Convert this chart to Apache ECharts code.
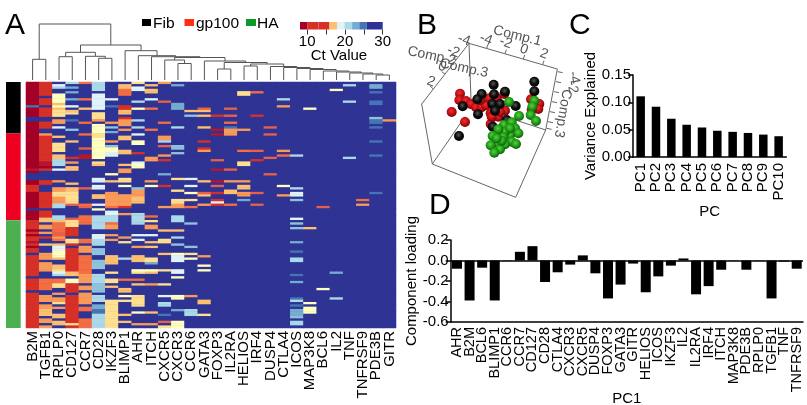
<!DOCTYPE html>
<html><head><meta charset="utf-8">
<style>html,body{margin:0;padding:0;background:#fff}#c{width:807px;height:405px}</style>
<script src="https://cdn.jsdelivr.net/npm/echarts@6/dist/echarts.min.js"></script>
</head><body><div id="c"></div>
<script>
// ---------- Panel A: heat map. Each gene lists [fromRow, toRow, Ct]; rows not listed are undetected (Ct 30)
const rowCount = 105;
const heatGenes = ['B2M','TGFB1','RPLP0','CD127','CCR7','CD28','IKZF3','BLIMP1','AHR','ITCH','CXCR5','CXCR3','CCR6','GATA3','FOXP3','IL2RA','HELIOS','IRF4','DUSP4','CTLA4','ICOS','MAP3K8','BCL6','IL2','TNF','TNFRSF9','PDE3B','GITR'];
const ctB2M = [[0,54,9],[10,11,24],[15,17,30],[37,38,11],[39,42,30],[44,47,12],[54,55,30],[55,59,9],[59,105,12.5],[63,64,10],[65,66,10],[68,69,11],[70,71,10],[73,74,30],[83,84,30],[89,90,30]];
const ctTGFB1 = [[0,58,12.5],[6,7,30],[10,11,30],[15,17,30],[20,22,30],[22,23,16.5],[34,36,11],[36,37,10],[38,42,30],[44,47,30],[54,55,30],[58,60,17.5],[60,61,30],[61,63,16],[63,64,30],[64,65,16.5],[65,66,30],[66,67,12],[69,70,17],[73,76,16],[77,81,16.5],[84,89,15],[91,94,16],[95,97,16.5],[97,100,17],[101,103,16.5],[104,105,16]];
const ctRPLP0 = [[1,2,20],[2,3,21],[5,9,18.5],[9,10,17],[10,11,19],[11,12,17],[12,15,18],[16,18,16.5],[19,20,20],[23,24,17.5],[26,30,18],[31,33,17],[33,36,21],[37,38,20],[42,43,16],[45,47,16],[47,49,18],[49,52,16.5],[52,54,21],[57,59,21],[59,60,17],[60,62,15],[62,64,15],[64,66,14],[66,67,16],[67,68,15],[69,70,17],[70,72,19.5],[72,75,18.5],[75,76,17],[78,80,17],[80,81,18],[81,82,20],[82,83,21],[84,86,15.5],[86,88,18],[90,91,16],[92,94,16.5],[94,95,18],[96,97,16.5],[99,101,17],[102,104,17]];
const ctCD127 = [[0,1,21],[2,3,23],[4,5,23],[7,8,23],[10,11,20],[12,13,17],[13,14,18],[16,17,24],[20,21,22],[25,26,17],[32,33,13],[34,35,16],[36,38,17.5],[43,44,17],[45,47,17],[47,52,18],[52,53,14],[58,59,14],[59,62,18],[62,66,13],[67,69,18],[69,70,13],[71,81,13],[81,83,17],[84,86,19],[86,90,13],[91,103,13],[103,104,18],[104,105,13]];
const ctCCR7 = [[0,1,15],[7,8,15.5],[11,12,17.5],[17,18,15],[22,23,15],[28,29,14],[31,33,11],[45,46,14],[52,53,15],[53,54,14],[57,59,15],[59,61,15.5],[67,69,15],[70,73,16],[74,82,15],[82,84,16],[84,86,16],[87,89,16],[90,95,16.5],[96,98,15.5],[101,105,15]];
const ctCD28 = [[0,4,21],[5,10,20],[10,12,19.5],[13,16,18],[16,17,16.5],[18,28,19],[22,24,18],[28,33,18.5],[34,35,18],[35,36,17],[41,43,20],[44,46,20],[48,50,17.5],[52,53,20],[54,55,19],[57,63,21],[65,67,20],[67,70,21],[71,74,22],[76,80,22.5],[82,86,21],[86,90,22],[91,94,21],[95,97,23],[97,99,24],[99,102,21],[102,105,21]];
const ctIKZF3 = [[7,8,19.5],[10,11,24],[17,18,16],[19,20,22],[21,22,23],[25,26,16],[27,28,22],[28,30,19],[30,32,20],[39,40,19],[42,43,17],[47,49,16],[49,53,16],[53,54,15.5],[55,57,20],[57,60,21],[60,61,15.5],[61,63,16],[65,66,16],[67,68,16],[74,78,17],[81,82,18],[84,86,18],[87,88,17],[93,105,18]];
const ctBLIMP1 = [[1,3,17],[3,6,15.5],[10,12,13],[12,14,17],[15,16,13],[16,19,16.5],[20,21,16],[23,25,17],[29,31,17],[35,36,17.5],[37,39,16],[41,43,18],[44,45,19],[48,53,16],[53,54,13],[56,57,16],[66,67,16.5],[68,69,18],[75,76,21],[84,85,15],[88,90,17],[91,92,19],[93,94,18],[99,100,17],[102,103,17]];
const ctAHR = [[0,1,18],[2,3,20],[3,4,20],[8,9,21],[11,12,19],[16,17,21],[19,20,21],[22,23,20],[25,27,19],[30,31,12],[34,35,20],[35,37,19],[45,46,22],[46,49,16.5],[49,52,17],[56,61,21],[65,66,19.5],[67,68,20],[70,71,16.5],[74,77,17.5],[80,81,19],[81,82,18],[84,85,15],[86,87,17],[91,96,18],[98,99,19],[103,104,16.5]];
const ctITCH = [[1,2,17],[3,5,17],[7,8,20],[11,12,15],[20,21,15.5],[32,34,16.5],[42,43,16.5],[44,45,18.5],[57,58,15.5],[59,60,18],[61,63,16.5],[65,66,19.5],[68,69,17],[70,71,17],[75,77,18],[77,78,23],[80,81,19],[81,82,17],[86,87,16.5],[98,99,17],[103,104,16.5]];
const ctCXCR5 = [[0,1,16.5],[8,9,14],[17,18,15],[23,25,16.5],[25,26,21],[27,28,14],[31,32,16],[33,34,12],[39,40,23],[44,45,12],[53,54,16],[63,64,17],[67,69,18],[73,74,17],[80,81,18],[86,87,18],[91,92,20],[94,96,21],[99,100,24],[102,103,14],[104,105,18]];
const ctCXCR3 = [[1,2,23],[9,12,23],[19,20,21],[27,29,22],[30,31,22],[41,42,18],[46,47,18],[50,52,18],[52,54,16],[57,60,21.5],[63,64,17],[66,67,21],[69,70,22],[73,74,19],[74,77,20],[80,82,20],[83,84,19],[91,93,19],[97,98,23],[102,105,19]];
const ctCCR6 = [[12,13,17],[14,15,22],[41,42,20],[44,45,19.5],[47,48,19],[50,51,18],[53,54,15.5],[60,61,22],[70,71,22],[73,74,18],[75,76,19],[91,92,16],[97,100,21]];
const ctGATA3 = [[11,12,14],[12,13,17],[14,15,17],[19,20,17],[25,26,12],[28,29,13],[29,30,16],[42,43,17],[47,48,14],[48,49,17],[52,53,16.5],[74,75,16.5],[78,79,19],[80,81,19],[93,95,17.5],[99,100,18]];
const ctFOXP3 = [[14,15,12],[20,21,11],[22,23,11],[33,34,14],[37,38,11],[42,43,11],[44,45,14],[47,48,13],[50,51,12],[51,52,20],[52,53,12]];
const ctIL2RA = [[11,12,14.5],[14,15,14],[17,18,15],[19,20,24],[20,23,16],[37,38,14],[42,43,16],[46,48,17],[52,53,15.5]];
const ctHELIOS = [[4,6,18],[20,21,16.5],[29,30,15.5],[34,36,18],[42,43,16.5],[44,46,17.5],[47,49,16.5],[50,51,23]];
const ctIRF4 = [[4,5,15],[14,15,12],[29,30,14],[33,34,12],[47,48,14],[52,53,14]];
const ctDUSP4 = [[19,20,14],[22,23,14.5],[32,33,14.5],[39,40,14.5]];
const ctCTLA4 = [[7,8,20.5],[10,11,16.5],[29,30,16.5],[31,32,15.5],[44,45,19],[48,49,16.5]];
const ctICOS = [[31,32,20.5],[45,46,21],[47,49,20],[50,51,22],[58,59,20],[60,61,22],[62,63,22],[68,69,23],[72,73,24],[75,77,21],[82,83,24],[85,86,23],[92,93,24],[93,94,21],[95,96,25],[97,100,23],[100,101,22],[102,104,21]];
const ctMAP3K8 = [[11,12,19],[62,63,17],[94,95,19],[96,99,19]];
const ctBCL6 = [[53,54,14],[88,89,19]];
const ctIL2 = [[3,4,19],[81,82,23],[92,93,20.5]];
const ctTNF = [[1,2,21],[8,9,21],[32,33,21]];
const ctTNFRSF9 = [[50,51,15.5],[52,53,16.5]];
const ctPDE3B = [[1,3,23],[4,5,24],[8,10,24],[15,16,22],[16,18,24],[19,20,24.5],[25,26,25],[31,32,25],[47,48,25]];
const ctGITR = [[16,17,16]];
const heatColumns = [ctB2M,ctTGFB1,ctRPLP0,ctCD127,ctCCR7,ctCD28,ctIKZF3,ctBLIMP1,ctAHR,ctITCH,ctCXCR5,ctCXCR3,ctCCR6,ctGATA3,ctFOXP3,ctIL2RA,ctHELIOS,ctIRF4,ctDUSP4,ctCTLA4,ctICOS,ctMAP3K8,ctBCL6,ctIL2,ctTNF,ctTNFRSF9,ctPDE3B,ctGITR];
// Ct colour steps: [upper bound, colour]
const ctSteps = [[10,'#a50026'],[11.5,'#b5162c'],[13.5,'#d73027'],[14.5,'#e8604a'],[15.5,'#f46d43'],[16.5,'#fa9a58'],[17.5,'#fdbf71'],[18.2,'#fee090'],[19.2,'#ffffbf'],[20.2,'#e0f3f8'],[21.5,'#abd9e9'],[22.5,'#8fc3dd'],[23.5,'#74add1'],[25,'#4575b4'],[26,'#3f5aa8'],[31,'#2f3494']];
// side strip: rows per group
const sideRowCounts = [22,37,46];
const sideColors = ['#000000','#ee0022','#4caf50'];
// dendrogram merges: [childA, childB, height]; ids 0-27 leaves, 28+ earlier merges
const dendroMerges = [[26,27,5],[25,28,6],[24,29,7],[23,30,8],[22,31,9],[21,32,10.5],[20,33,11.5],[19,34,12.5],[18,35,13.5],[16,17,14],[37,36,16],[14,15,11],[39,38,17.5],[13,40,19],[11,12,16.5],[10,42,20],[41,43,22.5],[9,44,23.3],[8,45,24.3],[7,46,29.3],[5,6,21.7],[4,48,23.7],[2,3,23.3],[50,49,27.7],[51,47,35],[0,1,20.7],[53,52,56]];
// colour key bins: [from, to, Ct]
const keyBins = [[8.1,10,9],[10,13,13],[13,15.9,13.2],[15.9,17.9,17],[17.9,19.9,20],[19.9,21.9,21],[21.9,23.8,23],[23.8,25.8,25],[25.8,30,30]];
const keyTicks = [10,15,20,25,30];
const keyLabels = [10,20,30];
// ---------- Panel B: projected positions
const bRed = [[180,281],[178,300],[198,303],[212,312],[228,322],[245,322],[258,316],[268,295],[290,295],[155,336],[195,366],[272,372],[315,332],[295,350],[272,340],[300,335],[313,282],[393,298],[418,312],[415,327],[395,330],[275,350],[240,300],[290,400]];
const bBlack = [[281,254],[403,245],[403,274],[245,282],[282,283],[315,275],[232,298],[188,319],[234,343],[277,312],[300,312],[347,318],[177,408],[285,332],[320,360],[278,380]];
const bGreen = [[327,306],[357,348],[403,302],[397,320],[392,345],[408,363],[312,375],[335,367],[345,385],[355,400],[330,405],[315,395],[295,388],[278,408],[310,412],[335,425],[348,432],[315,433],[295,430],[272,436],[300,448],[283,458],[330,385],[305,422],[290,415]];
const bEdges = [[207,130,472,207],[472,207,437,390],[437,390,347,592],[347,592,97,492],[97,492,65,312],[65,312,207,130],[207,130,213,300],[97,492,195,350],[437,390,340,358],
 [260,145,264,133],[315,161,319,149],[370,177,374,165],[428,194,432,182],[168,180,158,172],[135,222,125,215],[100,267,90,258],
 [473,215,488,218],[468,245,483,248],[462,275,477,278],[456,305,471,308],[450,335,465,338],[444,365,459,368],[440,385,455,388]];
const bLabels = [['Comp.1',352,108,-14],['Comp.2',95,168,-12],['Comp.3',192,205,-12],['-4',192,120,-20],['-4',258,118,-20],['-2',317,128,-20],['0',372,148,-20],['2',432,162,-20],['-2',160,155,-20],['0',127,200,-20],['2',93,245,-20],['-4',522,233,-80],['-2',517,262,-80],['Comp.3',488,340,-100]];
// ---------- Panel C
const pcNames = ['PC1','PC2','PC3','PC4','PC5','PC6','PC7','PC8','PC9','PC10'];
const pcVariance = [0.111,0.092,0.070,0.059,0.054,0.048,0.046,0.044,0.041,0.038];
// ---------- Panel D
const loadGenes = ['AHR','B2M','BCL6','BLIMP1','CCR6','CCR7','CD127','CD28','CTLA4','CXCR3','CXCR5','DUSP4','FOXP3','GATA3','GITR','HELIOS','ICOS','IKZF3','IL2','IL2RA','IRF4','ITCH','MAP3K8','PDE3B','RPLP0','TGFB1','TNF','TNFRSF9'];
const loadValues = [-0.08,-0.39,-0.07,-0.39,0.003,0.085,0.14,-0.21,-0.115,-0.04,0.05,-0.125,-0.37,-0.235,-0.03,-0.31,-0.155,-0.05,0.02,-0.33,-0.25,-0.09,0.003,-0.09,0.003,-0.37,-0.01,-0.08];

// ---------- build
const FONT = '"Liberation Sans", Arial, sans-serif';
const heatData = [];
heatColumns.forEach((spans, c) => {
  const rows = new Array(rowCount).fill(30);
  spans.forEach(s => { for (let r = s[0]; r < s[1] && r < rowCount; r++) rows[r] = s[2]; });
  rows.forEach((v, r) => heatData.push([c, r, v]));
});
const rowNames = Array.from({length: rowCount}, (_, i) => i);
const ctColor = v => { for (const s of ctSteps) if (v <= s[0]) return s[1]; return ctSteps[ctSteps.length-1][1]; };
const pieces = ctSteps.map((s, i) => ({ min: i ? ctSteps[i-1][0] : 0, max: s[0], color: s[1] }));

// dendrogram segments from merges
const nodes = []; for (let i = 0; i < heatGenes.length; i++) nodes.push({x: i, h: 0});
const dendroSeg = [];
dendroMerges.forEach(m => {
  const a = nodes[m[0]], b = nodes[m[1]];
  dendroSeg.push([a.x, a.h, a.x, m[2]], [a.x, m[2], b.x, m[2]], [b.x, m[2], b.x, b.h]);
  nodes.push({x: (a.x + b.x) / 2, h: m[2]});
});
const sideData = []; let acc = 0;
sideRowCounts.forEach((n, i) => { sideData.push([acc, acc + n, i]); acc += n; });

const segSeries = (grid, data, color, width) => ({
  type: 'custom', xAxisIndex: grid, yAxisIndex: grid, data, silent: true, clip: false,
  renderItem(p, api) {
    const a = api.coord([api.value(0), api.value(1)]), b = api.coord([api.value(2), api.value(3)]);
    return {type: 'line', shape: {x1: a[0], y1: a[1], x2: b[0], y2: b[1]}, style: {stroke: color, lineWidth: width}};
  }
});
const sphere = (hi, mid, dark) => ({type: 'radial', x: 0.45, y: 0.4, r: 0.6, colorStops: [{offset: 0, color: hi}, {offset: 0.55, color: mid}, {offset: 1, color: dark}]});
const ballSeries = (data, color) => ({type: 'scatter', xAxisIndex: 4, yAxisIndex: 4, data, symbolSize: 10, itemStyle: {color, opacity: 1}, silent: true});
const txt = (t, x, y, size, extra) => ({type: 'text', x, y, style: Object.assign({text: t, font: size + 'px ' + FONT, fill: '#000', textVerticalAlign: 'middle'}, extra || {})});
const sq = (x, y, w, h, fill) => ({type: 'rect', shape: {x, y, width: w, height: h}, style: {fill}});

const blackAxis = {lineStyle: {color: '#000', width: 1.5}};
const option = {
  animation: false,
  backgroundColor: '#fff',
  textStyle: {fontFamily: FONT},
  grid: [
    {left: 26, top: 82, width: 370, height: 246, outerBoundsMode: 'none', show: true, backgroundColor: '#2f3494', borderWidth: 0},
    {left: 6, top: 82, width: 14.7, height: 246, outerBoundsMode: 'none'},
    {left: 26, top: 24, width: 370, height: 56, outerBoundsMode: 'none'},
    {left: 300, top: 22, width: 82.7, height: 7.5, outerBoundsMode: 'none'},
    {left: 400, top: 0, width: 160, height: 200, outerBoundsMode: 'none'},
    {left: 633, top: 75, width: 153.3, height: 82, outerBoundsMode: 'none'},
    {left: 450.7, top: 240, width: 352.3, height: 82, outerBoundsMode: 'none'}
  ],
  xAxis: [
    {gridIndex: 0, type: 'category', data: heatGenes, axisLine: {show: false}, axisTick: {show: false}, splitLine: {show: false},
     axisLabel: {rotate: 90, fontSize: 15, margin: 3, color: '#000', interval: 0, fontFamily: FONT}},
    {gridIndex: 1, type: 'value', min: 0, max: 1, show: false},
    {gridIndex: 2, type: 'value', min: -0.5, max: 27.5, show: false},
    {gridIndex: 3, type: 'value', min: 8.1, max: 30, splitLine: {show: false}, axisLine: {show: false},
     axisTick: {length: 5, lineStyle: {color: '#333'}, customValues: keyTicks},
     axisLabel: {fontSize: 15, color: '#000', margin: 5, customValues: keyLabels, fontFamily: FONT}},
    {gridIndex: 4, type: 'value', min: 0, max: 480, show: false},
    {gridIndex: 5, type: 'category', data: pcNames, axisLine: blackAxis, axisTick: {alignWithLabel: true, length: 4, lineStyle: {color: '#000', width: 1.5}},
     axisLabel: {rotate: 90, fontSize: 15, margin: 6, color: '#000', interval: 0, fontFamily: FONT},
     name: 'PC', nameLocation: 'middle', nameGap: 47, nameMoveOverlap: false, nameTextStyle: {fontSize: 15, color: '#000', fontFamily: FONT}},
    {gridIndex: 6, type: 'category', data: loadGenes, axisLine: Object.assign({onZero: false}, blackAxis), axisTick: {alignWithLabel: true, length: 4, lineStyle: {color: '#000', width: 1.5}},
     axisLabel: {rotate: 90, fontSize: 14.5, margin: 5, color: '#000', interval: 0, fontFamily: FONT},
     name: 'PC1', nameLocation: 'middle', nameGap: 69, nameMoveOverlap: false, nameTextStyle: {fontSize: 15, color: '#000', fontFamily: FONT}}
  ],
  yAxis: [
    {gridIndex: 0, type: 'category', data: rowNames, inverse: true, show: false},
    {gridIndex: 1, type: 'value', min: 0, max: rowCount, inverse: true, show: false},
    {gridIndex: 2, type: 'value', min: 0, max: 56, show: false},
    {gridIndex: 3, type: 'value', min: 0, max: 1, show: false},
    {gridIndex: 4, type: 'value', min: 0, max: 600, inverse: true, show: false},
    {gridIndex: 5, type: 'value', min: 0, max: 0.15, interval: 0.05, splitLine: {show: false}, axisLine: Object.assign({show: true}, blackAxis),
     axisTick: {show: true, length: 5, lineStyle: {color: '#000', width: 1.5}},
     axisLabel: {fontSize: 15, color: '#000', margin: 2, formatter: v => v.toFixed(2), fontFamily: FONT},
     name: 'Variance Explained', nameLocation: 'middle', nameGap: 31, nameRotate: 90, nameTextStyle: {fontSize: 15, color: '#000', fontFamily: FONT}},
    {gridIndex: 6, type: 'value', min: -0.6, max: 0.2, interval: 0.2, splitLine: {show: false}, axisLine: Object.assign({show: true, onZero: false}, blackAxis),
     axisTick: {show: true, length: 5, lineStyle: {color: '#000', width: 1.5}},
     axisLabel: {fontSize: 15, color: '#000', margin: 2, formatter: v => v.toFixed(1), fontFamily: FONT},
     name: 'Component loading', nameLocation: 'middle', nameGap: 31, nameRotate: 90, nameTextStyle: {fontSize: 15, color: '#000', fontFamily: FONT}}
  ],
  visualMap: [{type: 'piecewise', show: false, seriesIndex: 0, dimension: 2, pieces}],
  series: [
    {type: 'heatmap', xAxisIndex: 0, yAxisIndex: 0, data: heatData, silent: true, progressive: 0},
    {type: 'custom', xAxisIndex: 1, yAxisIndex: 1, data: sideData, silent: true,
     renderItem(p, api) {
       const a = api.coord([0, api.value(0)]), b = api.coord([1, api.value(1)]);
       return {type: 'rect', shape: {x: a[0], y: a[1], width: b[0] - a[0], height: b[1] - a[1]}, style: {fill: sideColors[api.value(2)]}};
     }},
    segSeries(2, dendroSeg, '#555', 1),
    {type: 'custom', xAxisIndex: 3, yAxisIndex: 3, data: keyBins, silent: true,
     renderItem(p, api) {
       const a = api.coord([api.value(0), 1]), b = api.coord([api.value(1), 0]);
       return {type: 'rect', shape: {x: a[0], y: a[1], width: b[0] - a[0], height: b[1] - a[1]}, style: {fill: ctColor(api.value(2))}};
     }},
    segSeries(4, bEdges, '#666', 1),
    ballSeries(bRed, sphere('#ee3030', '#c80f14', '#6a0508')),
    ballSeries(bBlack, sphere('#555', '#0c0c0c', '#000')),
    ballSeries(bGreen, sphere('#55d040', '#22a018', '#0d5a08')),
    {type: 'custom', xAxisIndex: 4, yAxisIndex: 4, silent: true, clip: false,
     data: bLabels.map(l => [l[1], l[2], l[3]]),
     renderItem(p, api) {
       const c = api.coord([api.value(0), api.value(1)]);
       return {type: 'text', x: c[0], y: c[1], rotation: api.value(2) * Math.PI / 180,
         style: {text: bLabels[p.dataIndex][0], font: '14px ' + FONT, fill: '#555', textAlign: 'center', textVerticalAlign: 'middle'}};
     }},
    {type: 'bar', xAxisIndex: 5, yAxisIndex: 5, data: pcVariance, barWidth: 8.5, itemStyle: {color: '#000'}, silent: true},
    {type: 'bar', xAxisIndex: 6, yAxisIndex: 6, data: loadValues, barWidth: 10, itemStyle: {color: '#000'}, silent: true,
     markLine: {silent: true, symbol: 'none', animation: false, label: {show: false}, lineStyle: {color: '#000', width: 1.5, type: 'solid'}, data: [{yAxis: 0}]}}
  ],
  graphic: [
    txt('A', 5, 26, 30), txt('B', 417, 26, 30), txt('C', 569, 26, 30), txt('D', 429, 206, 30),
    sq(142, 19, 9, 7, '#000'), txt('Fib', 153, 24, 15.5),
    sq(184.5, 19, 9.5, 7, '#ff3010'), txt('gp100', 196, 24, 15.5),
    sq(246, 19, 10, 7, '#0a9a2a'), txt('HA', 257, 24, 15.5),
    txt('Ct Value', 339, 56, 15, {textAlign: 'center'})
  ]
};
echarts.init(document.getElementById('c'), null, {renderer: 'canvas'}).setOption(option);
</script></body></html>
